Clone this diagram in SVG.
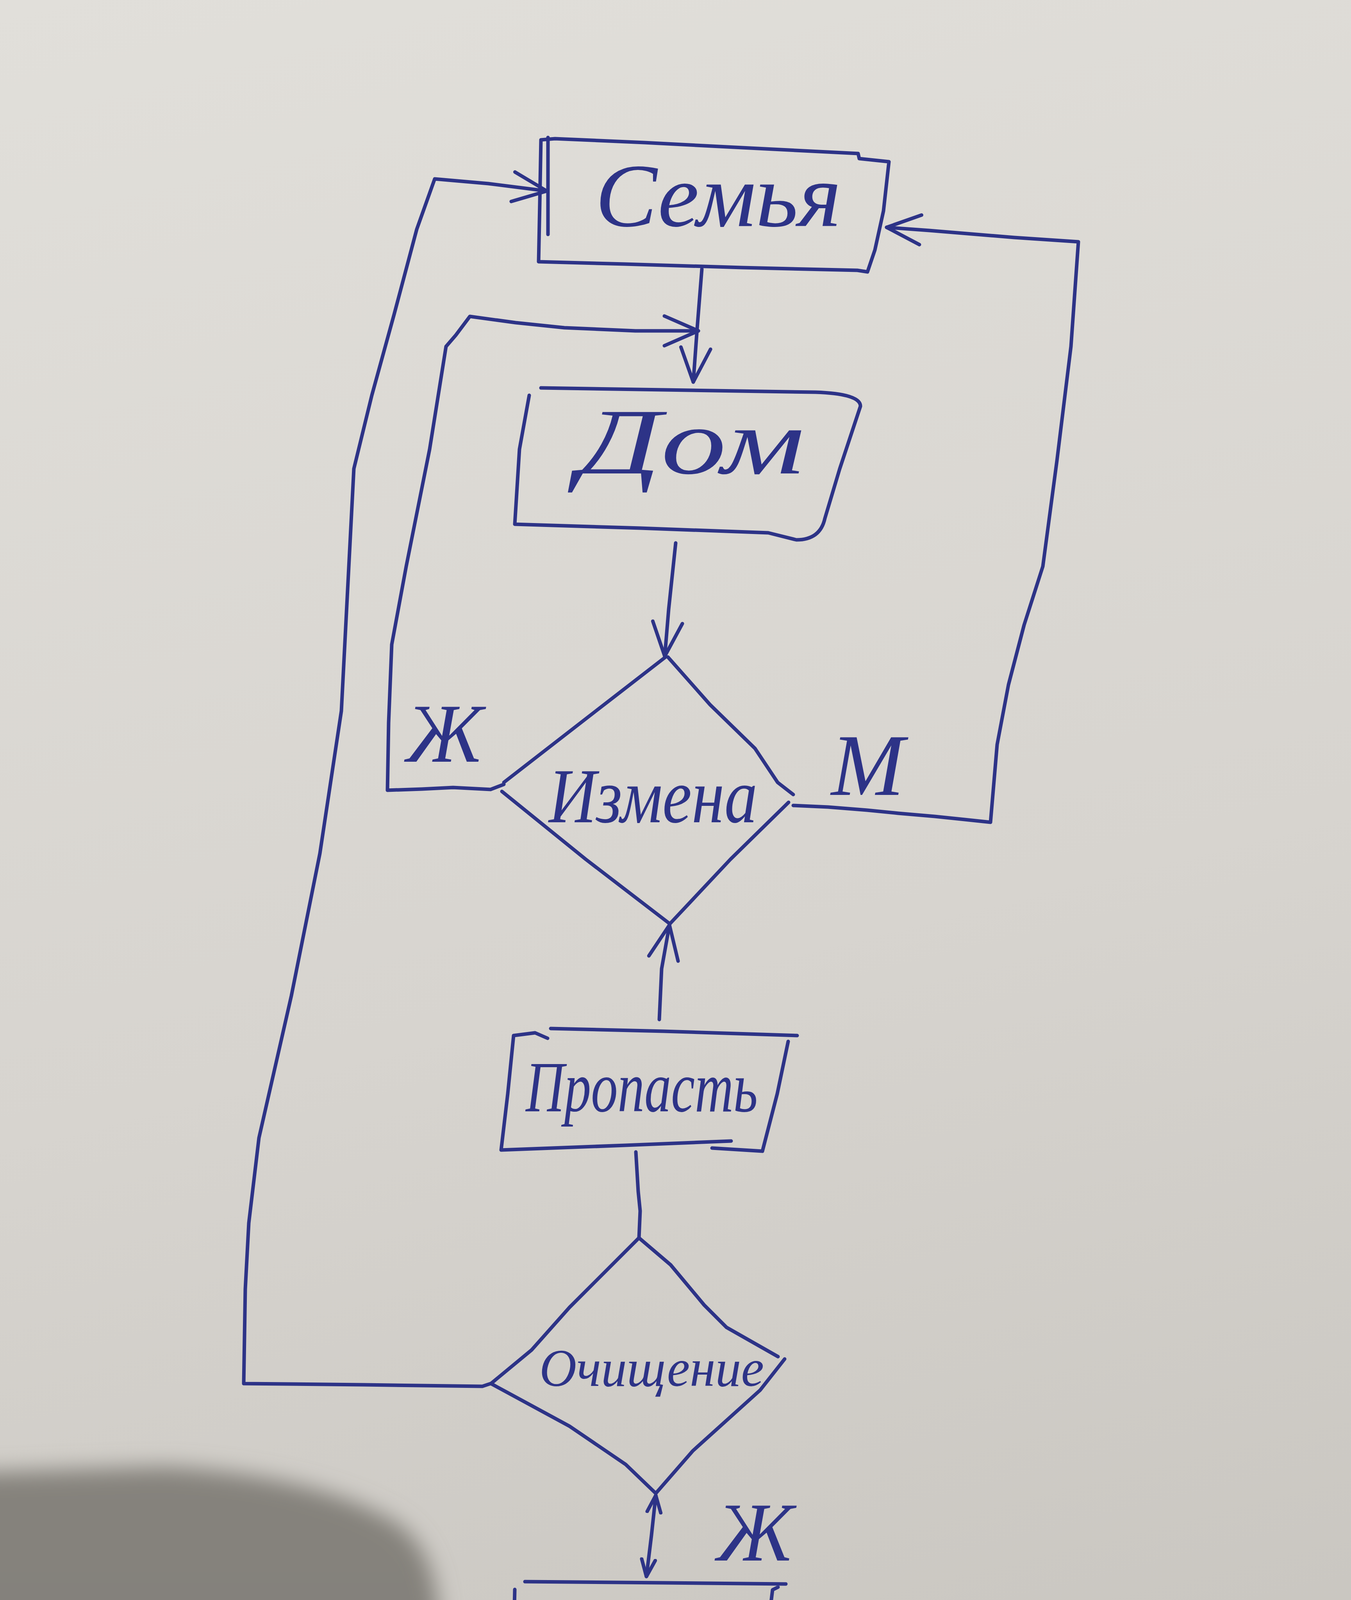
<svg xmlns="http://www.w3.org/2000/svg" width="3459" height="5712" viewBox="0 0 3459 5712">
<style>
.ink{fill:none;stroke:#2d3387;stroke-width:9;stroke-linecap:round;stroke-linejoin:round}
.hw{font-family:"Liberation Serif","DejaVu Serif",serif;font-style:italic;fill:#2d3387}
</style>
<defs>
<linearGradient id="paper" x1="0" y1="0" x2="0.15" y2="1">
<stop offset="0" stop-color="#e1dfda"/>
<stop offset="0.5" stop-color="#d7d4cf"/>
<stop offset="1" stop-color="#c4c1bb"/>
</linearGradient>
<linearGradient id="shade" x1="0" y1="0" x2="0" y2="1">
<stop offset="0" stop-color="#86837d"/>
<stop offset="1" stop-color="#7c7a75"/>
</linearGradient>
<filter id="blur" x="-0.2" y="-0.2" width="1.4" height="1.4"><feGaussianBlur stdDeviation="28"/></filter>
<marker id="ahL" viewBox="0 0 100 100" refX="95" refY="50" markerWidth="100" markerHeight="100" markerUnits="userSpaceOnUse" orient="auto">
<path d="M8,12 L95,50 L8,88" fill="none" stroke="#2d3387" stroke-width="9" stroke-linecap="round" stroke-linejoin="round"/>
</marker>
<marker id="ahS" viewBox="0 0 100 100" refX="95" refY="50" markerWidth="50" markerHeight="50" markerUnits="userSpaceOnUse" orient="auto-start-reverse">
<path d="M8,15 L95,50 L8,85" fill="none" stroke="#2d3387" stroke-width="18" stroke-linecap="round" stroke-linejoin="round"/>
</marker>
</defs>
<rect x="0" y="0" width="3459" height="5712" fill="url(#paper)"/>
<path d="M-80,3770 L421,3754 Q800,3775 1010,3895 Q1110,3960 1122,4120 L1136,4487 L1164,4910 L1235,5333 L1347,5800 L-80,5800 Z" fill="url(#shade)" filter="url(#blur)"/>

<g id="connectors">
<path class="ink" d="M1797,689 L1785,840 L1775,978" marker-end="url(#ahL)"/>
<path class="ink" d="M1730,1390 L1712,1560 L1702,1680" marker-end="url(#ahL)"/>
<path class="ink" d="M1688,2610 L1694,2480 L1714,2368" marker-end="url(#ahL)"/>
<path class="ink" d="M1628,2949 L1634,3050 L1639,3100 L1636,3169"/>
<path class="ink" d="M1679,3828 L1668,3930 L1655,4036" marker-start="url(#ahS)" marker-end="url(#ahS)"/>
<path class="ink" d="M1653,4359 L1645,4450 L1636,4531"/>
<path class="ink" d="M1290,2008 L1256,2021 L1160,2016 L1080,2020 L992,2023 L995,1850 L1003,1650 L1040,1450 L1100,1150 L1142,887 L1167,858 L1203,810 L1320,826 L1445,839 L1627,847 L1788,847" marker-end="url(#ahL)"/>
<path class="ink" d="M1256,3542 L1235,3549 L930,3545 L624,3542 L628,3300 L637,3131 L663,2913 L746,2549 L819,2185 L874,1820 L906,1200 L952,1012 L1009,805 L1067,587 L1113,458 L1250,470 L1400,489" marker-end="url(#ahL)"/>
<path class="ink" d="M2031,2062 L2120,2066 L2220,2074 L2300,2082 L2393,2090 L2470,2098 L2536,2105 L2553,1906 L2582,1753 L2622,1600 L2670,1450 L2706,1180 L2742,887 L2761,619 L2597,608 L2379,590 L2270,582" marker-end="url(#ahL)"/>
</g>

<g id="node-semya">
<path class="ink" d="M1385,358 L1421,355 L1650,365 L1900,378 L2197,393 L2200,406 L2276,414 L2262,540 L2240,640 L2221,696 L2195,692 L1900,685 L1600,676 L1379,670 L1382,520 L1385,358"/>
<path class="ink" d="M1403,352 L1403,600" stroke-width="13"/>
<text class="hw" x="1524" y="579" font-size="230" textLength="630" lengthAdjust="spacingAndGlyphs">Семья</text>
</g>

<g id="node-dom">
<path class="ink" d="M1385,993 L1700,998 L2088,1004 Q2203,1008 2203,1040 L2150,1200 L2112,1327 Q2100,1382 2039,1382 L1967,1364 L1640,1352 L1318,1342 L1330,1150 L1355,1012"/>
<text class="hw" x="1480" y="1212" font-size="240" textLength="580" lengthAdjust="spacingAndGlyphs">Дом</text>
</g>

<g id="node-izmena">
<path class="ink" d="M1704,1682 L1500,1840 L1290,2003 M1285,2026 L1500,2200 L1715,2365 L1870,2200 L2019,2054 M2031,2034 L1991,2003 L1933,1916 L1818,1804 L1710,1682"/>
<text class="hw" x="1405" y="2105" font-size="200" textLength="534" lengthAdjust="spacingAndGlyphs">Измена</text>
<text class="hw" x="1040" y="1950" font-size="215">Ж</text>
<text class="hw" x="2128" y="2035" font-size="225">М</text>
</g>

<g id="node-propast">
<path class="ink" d="M1410,2633 L1700,2640 L2041,2651 M2018,2666 L1990,2800 L1952,2947 L1823,2939 M1872,2921 L1600,2932 L1283,2944 L1300,2800 L1315,2651 L1370,2644 L1402,2658"/>
<text class="hw" x="1346" y="2845" font-size="185" textLength="594" lengthAdjust="spacingAndGlyphs">Пропасть</text>
</g>

<g id="node-ochishchenie">
<path class="ink" d="M1636,3169 L1458,3347 L1361,3456 L1257,3542 L1458,3651 L1602,3749 L1679,3823 L1774,3714 L1946,3559 L2009,3479 M1636,3169 L1717,3238 L1803,3341 L1860,3398 L1992,3473"/>
<text class="hw" x="1381" y="3548" font-size="135" textLength="575" lengthAdjust="spacingAndGlyphs">Очищение</text>
<text class="hw" x="1835" y="3995" font-size="215">Ж</text>
</g>

<g id="node-namaz">
<path class="ink" d="M1344,4049 L1700,4052 L2012,4055 M1992,4063 L1978,4070 L1962,4200 L1946,4344 L1648,4359 L1275,4356 L1269,4350 M1318,4069 L1315,4200 L1312,4350"/>
<text class="hw" x="1412" y="4247" font-size="190" textLength="517" lengthAdjust="spacingAndGlyphs">Намаз</text>
</g>

<g id="node-konets">
<path class="ink" d="M1455,4542 L1831,4531 L1849,4542 L1952,4528 M1963,4520 L1945,4660 L1929,4798 M1306,4830 L1600,4805 L1918,4772 M1352,4560 L1340,4690 L1329,4812"/>
<text class="hw" x="1453" y="4781" font-size="190" textLength="490" lengthAdjust="spacingAndGlyphs">Конец</text>
</g>
</svg>
